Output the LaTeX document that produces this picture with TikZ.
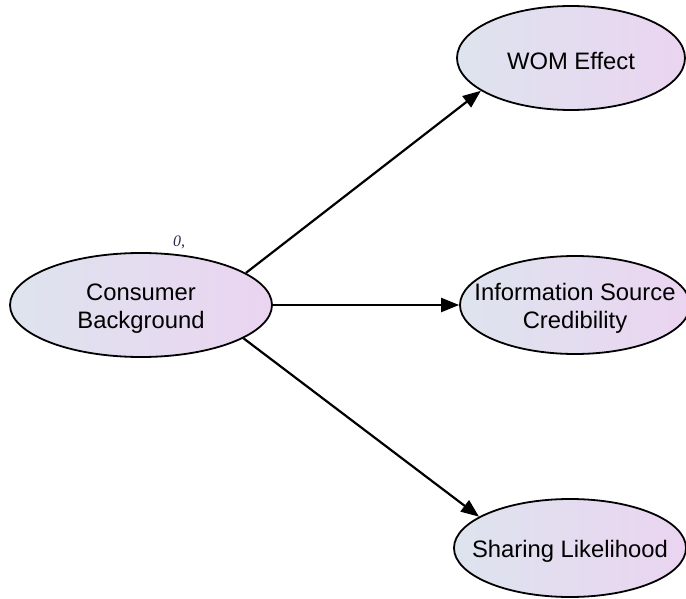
\documentclass[tikz,border=0pt]{standalone}
\usepackage{fontspec}
\setmainfont{Liberation Sans}
\newfontfamily\labelserif{Liberation Serif}
\usetikzlibrary{shapes.geometric,arrows.meta}

\definecolor{fillleft}{RGB}{221,228,238}
\definecolor{fillright}{RGB}{235,212,241}
\definecolor{labelink}{RGB}{40,44,70}

\tikzset{
  concept/.style={
    ellipse, draw=black, line width=1.8pt, inner sep=0pt,
    left color=fillleft, right color=fillright
  },
  caption/.style={
    align=center, text=black, inner sep=0pt, yshift=-3.5pt,
    font=\fontsize{23.8}{28}\selectfont
  },
  link/.style={
    draw=black, line width=2.2pt,
    -{Triangle[length=18pt,width=14pt]}
  }
}

\begin{document}
\begin{tikzpicture}[x=1pt,y=-1pt]
  \useasboundingbox (0,0) rectangle (686,599);

  % concept nodes (shape sized explicitly, text set as a centred label)
  \node[concept, minimum width=262pt, minimum height=104pt,
        label={[caption]center:{Consumer\\Background}}] (cb)  at (141,305) {};
  \node[concept, minimum width=228pt, minimum height=104pt,
        label={[caption]center:{WOM Effect}}] (wom) at (571,58) {};
  \node[concept, minimum width=230pt, minimum height=98pt,
        label={[caption]center:{Information Source\\Credibility}}] (isc) at (575,305) {};
  \node[concept, minimum width=232pt, minimum height=98pt,
        label={[caption]center:{Sharing Likelihood}}] (sl)  at (570,548) {};

  % small label above the source node
  \node[text=labelink, font=\labelserif\itshape\fontsize{16}{18}\selectfont] (lbl) at (179,242) {0,};

  % influence links
  \draw[link] (cb.17)  -- (wom.200);
  \draw[link] (cb.east) -- (isc.west);
  \draw[link] (cb.342) -- (sl.161);
\end{tikzpicture}
\end{document}
